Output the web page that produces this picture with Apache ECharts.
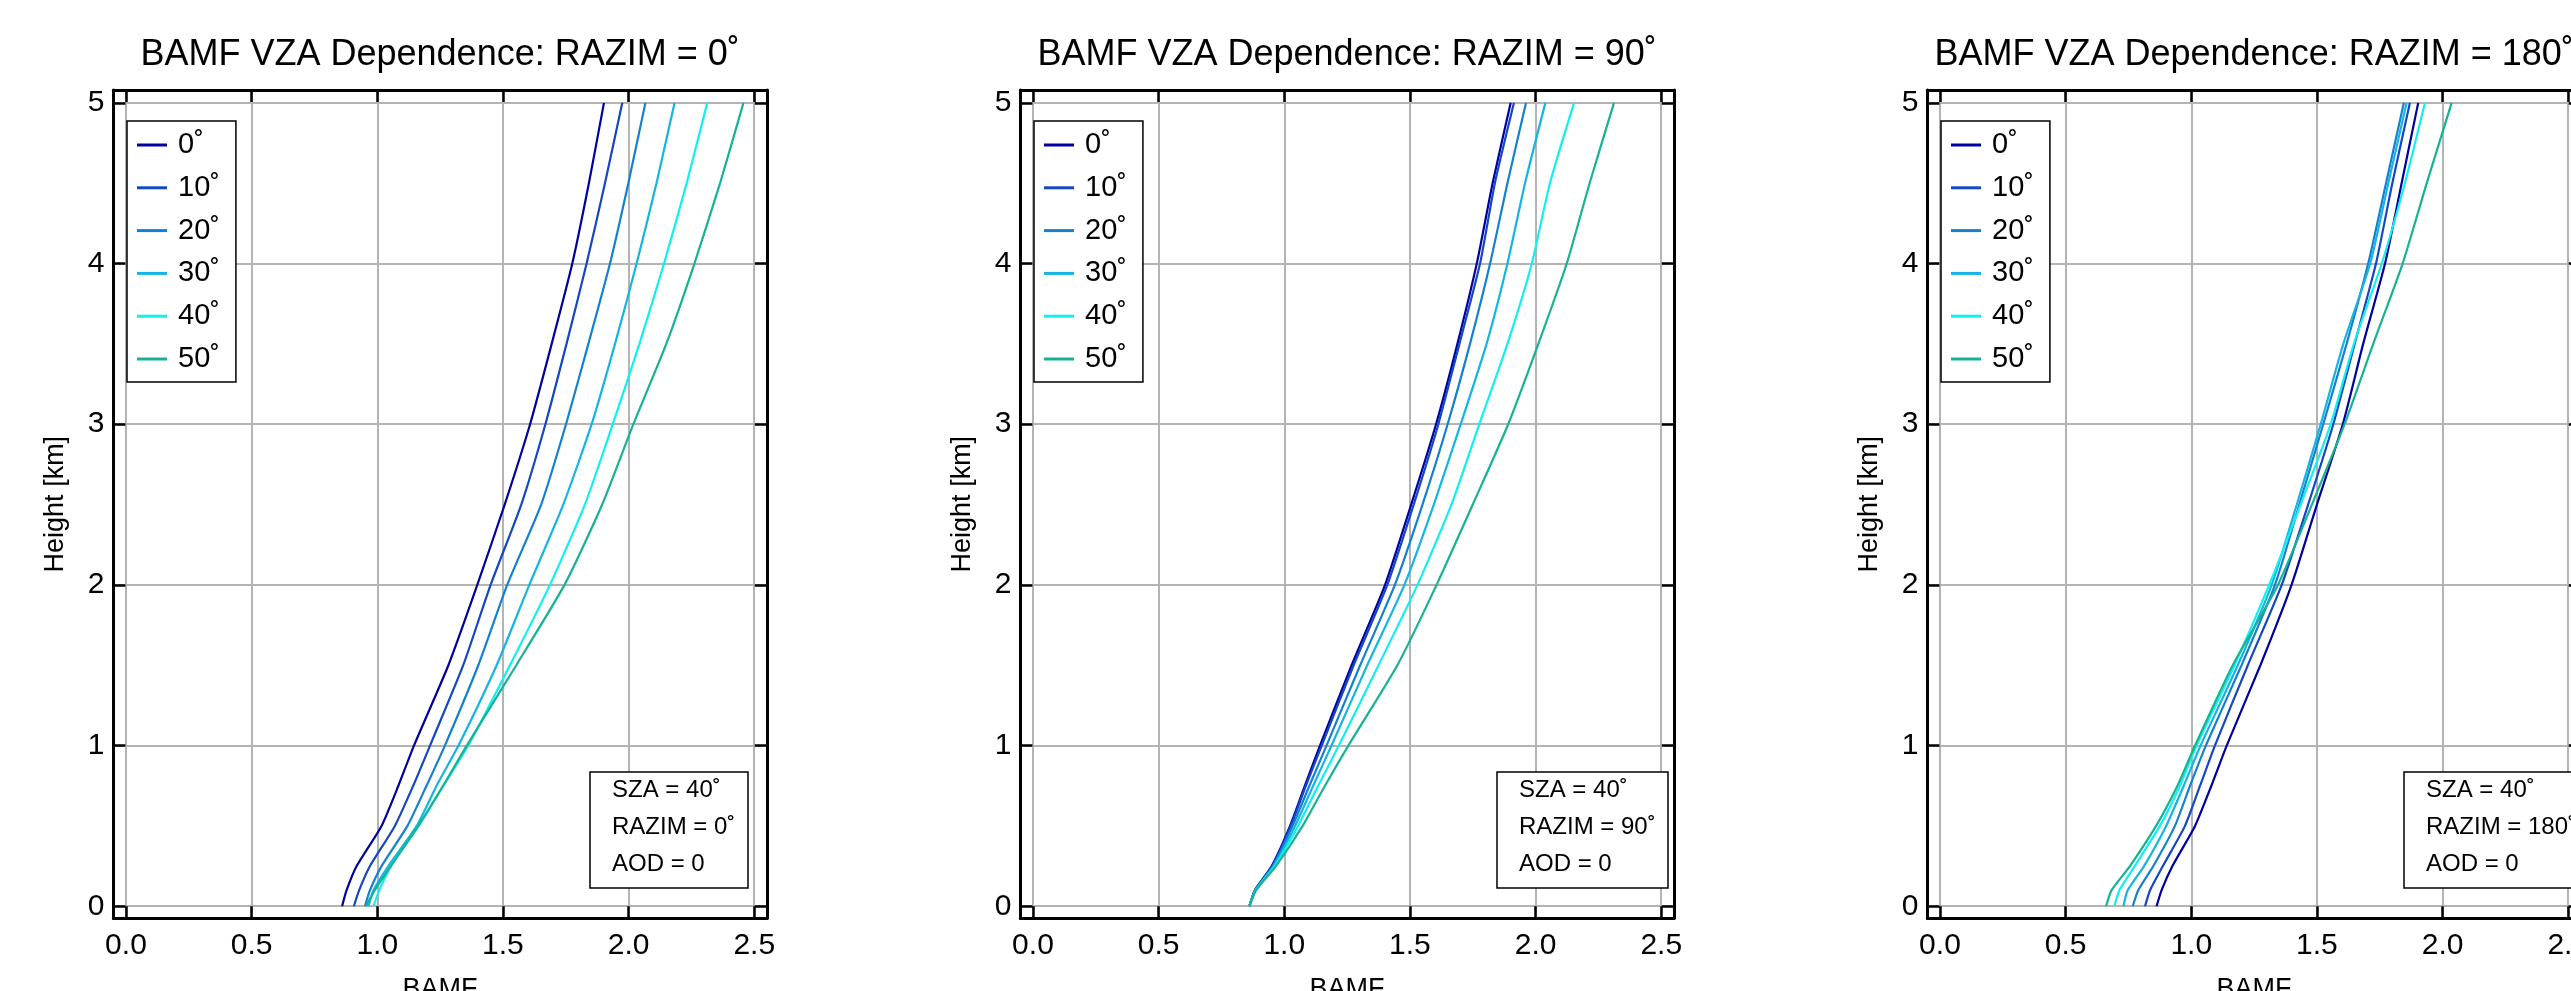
<!DOCTYPE html>
<html>
<head>
<meta charset="utf-8">
<title>BAMF VZA Dependence</title>
<script src="https://cdn.jsdelivr.net/npm/echarts@6/dist/echarts.min.js"></script>
<style>
html, body { margin: 0; padding: 0; background: #fff; }
#main { width: 2571px; height: 991px; }
</style>
</head>
<body>
<div id="main"></div>
<script>
// heights of the profile levels [km]
var heights = [0, 0.1, 0.25, 0.5, 0.75, 1, 1.5, 2, 2.5, 3, 3.5, 4, 4.5, 5];

var vzaNames = ['0˚', '10˚', '20˚', '30˚', '40˚', '50˚'];
var vzaColors = ['#0000a0', '#1446c6', '#1480d2', '#14b4e4', '#10f0f0', '#16b294'];

var razimValues = ['0', '90', '180'];

// BAMF per VZA, RAZIM = 0
var bamfRazim0 = [
  [0.860, 0.878, 0.918, 1.017, 1.084, 1.146, 1.283, 1.398, 1.507, 1.608, 1.694, 1.776, 1.842, 1.902],
  [0.907, 0.928, 0.971, 1.070, 1.143, 1.210, 1.342, 1.451, 1.573, 1.669, 1.753, 1.833, 1.906, 1.975],
  [0.951, 0.971, 1.017, 1.120, 1.196, 1.269, 1.402, 1.517, 1.652, 1.751, 1.840, 1.926, 1.999, 2.067],
  [0.965, 0.985, 1.044, 1.157, 1.236, 1.323, 1.475, 1.605, 1.740, 1.853, 1.946, 2.032, 2.111, 2.183],
  [0.985, 1.008, 1.055, 1.165, 1.263, 1.362, 1.528, 1.687, 1.826, 1.937, 2.043, 2.141, 2.231, 2.313],
  [0.955, 0.990, 1.054, 1.163, 1.262, 1.356, 1.553, 1.745, 1.895, 2.019, 2.150, 2.262, 2.364, 2.457]
];

// BAMF per VZA, RAZIM = 90
var bamfRazim90 = [
  [0.861, 0.883, 0.950, 1.023, 1.082, 1.142, 1.268, 1.401, 1.505, 1.604, 1.689, 1.766, 1.829, 1.901],
  [0.861, 0.884, 0.952, 1.026, 1.086, 1.149, 1.276, 1.410, 1.515, 1.613, 1.697, 1.779, 1.838, 1.914],
  [0.861, 0.885, 0.955, 1.033, 1.100, 1.168, 1.302, 1.440, 1.550, 1.650, 1.739, 1.819, 1.888, 1.962],
  [0.861, 0.886, 0.958, 1.043, 1.115, 1.188, 1.330, 1.478, 1.595, 1.702, 1.805, 1.888, 1.958, 2.039],
  [0.861, 0.887, 0.962, 1.055, 1.135, 1.217, 1.375, 1.530, 1.665, 1.776, 1.888, 1.985, 2.057, 2.153],
  [0.861, 0.888, 0.967, 1.073, 1.162, 1.255, 1.450, 1.606, 1.750, 1.891, 2.011, 2.124, 2.215, 2.312]
];

// BAMF per VZA, RAZIM = 180
var bamfRazim180 = [
  [0.862, 0.882, 0.925, 1.015, 1.080, 1.141, 1.275, 1.399, 1.500, 1.603, 1.684, 1.771, 1.837, 1.903],
  [0.816, 0.836, 0.887, 0.975, 1.035, 1.094, 1.225, 1.360, 1.465, 1.565, 1.650, 1.735, 1.800, 1.870],
  [0.767, 0.789, 0.849, 0.935, 0.995, 1.058, 1.200, 1.333, 1.430, 1.525, 1.618, 1.704, 1.775, 1.846],
  [0.730, 0.747, 0.812, 0.900, 0.970, 1.037, 1.185, 1.320, 1.420, 1.515, 1.605, 1.712, 1.784, 1.857],
  [0.694, 0.714, 0.775, 0.875, 0.955, 1.021, 1.172, 1.310, 1.435, 1.555, 1.647, 1.758, 1.850, 1.930],
  [0.661, 0.683, 0.756, 0.860, 0.945, 1.015, 1.165, 1.345, 1.480, 1.610, 1.724, 1.841, 1.937, 2.036]
];

var panels = [bamfRazim0, bamfRazim90, bamfRazim180];

var dom = document.getElementById('main');
var myChart = echarts.init(dom);

var FONT = 'Liberation Sans, Arial, Helvetica, sans-serif';
var panelLeft = [113.4, 1020.4, 1927.4];
var plotTop = 90, plotW = 653.4, plotH = 828.3;

var grids = [], xAxes = [], yAxes = [], series = [], legends = [], titles = [];

function tickStyle() {
  return { show: true, inside: true, length: 12, lineStyle: { color: '#000', width: 2.5 } };
}
function lineStyleBlack() {
  return { show: true, onZero: false, lineStyle: { color: '#000', width: 3 } };
}

for (var p = 0; p < 3; p++) {
  grids.push({
    left: panelLeft[p], top: plotTop, width: plotW, height: plotH,
    containLabel: false, outerBoundsMode: 'none'
  });

  // bottom + top x axes
  xAxes.push({
    gridIndex: p, type: 'value', position: 'bottom', min: -0.05, max: 2.55, splitNumber: 5,
    name: 'BAMF', nameLocation: 'middle', nameGap: 58,
    nameTextStyle: { fontSize: 27, color: '#000', fontFamily: FONT },
    axisLine: lineStyleBlack(),
    axisTick: tickStyle(),
    axisLabel: {
      fontSize: 30, color: '#000', margin: 12, fontFamily: FONT,
      showMinLabel: false, showMaxLabel: false,
      formatter: function (v) { return v.toFixed(1); }
    },
    splitLine: { show: true, showMinLine: false, showMaxLine: false, lineStyle: { color: '#b4b4b4', width: 2 } }
  });
  xAxes.push({
    gridIndex: p, type: 'value', position: 'top', min: -0.05, max: 2.55, splitNumber: 5,
    axisLine: lineStyleBlack(), axisTick: tickStyle(),
    axisLabel: { show: false }, splitLine: { show: false }
  });

  // left + right y axes
  yAxes.push({
    gridIndex: p, type: 'value', position: 'left', min: -0.075, max: 5.08, splitNumber: 5,
    name: 'Height [km]', nameLocation: 'middle', nameGap: 44,
    nameTextStyle: { fontSize: 27, color: '#000', fontFamily: FONT },
    axisLine: lineStyleBlack(),
    axisTick: tickStyle(),
    axisLabel: { fontSize: 30, color: '#000', margin: 9, fontFamily: FONT, showMinLabel: false, showMaxLabel: false },
    splitLine: { show: true, showMinLine: false, showMaxLine: false, lineStyle: { color: '#b4b4b4', width: 2 } }
  });
  yAxes.push({
    gridIndex: p, type: 'value', position: 'right', min: -0.075, max: 5.08, splitNumber: 5,
    axisLine: lineStyleBlack(), axisTick: tickStyle(),
    axisLabel: { show: false }, splitLine: { show: false }
  });

  for (var k = 0; k < vzaNames.length; k++) {
    var vals = panels[p][k];
    series.push({
      type: 'line',
      name: vzaNames[k],
      xAxisIndex: 2 * p,
      yAxisIndex: 2 * p,
      symbol: 'none',
      smooth: 0.2,
      animation: false,
      data: heights.map(function (h, i) { return [vals[i], h]; }),
      lineStyle: { color: vzaColors[k], width: 2.2 },
      itemStyle: { color: vzaColors[k] },
      z: 3
    });
  }

  legends.push({
    orient: 'vertical',
    left: panelLeft[p] + 13.6,
    top: 121,
    data: vzaNames,
    icon: 'rect',
    itemWidth: 30,
    itemHeight: 3,
    itemGap: 12.8,
    padding: [9, 16, 8, 10],
    borderColor: '#000',
    borderWidth: 1.5,
    borderRadius: 0,
    backgroundColor: '#fff',
    selectedMode: false,
    textStyle: { fontSize: 29, lineHeight: 30, color: '#000', fontFamily: FONT, padding: [0, 0, 0, 6] }
  });

  titles.push({
    text: 'BAMF VZA Dependence: RAZIM = ' + razimValues[p] + '˚',
    left: panelLeft[p] + plotW / 2,
    textAlign: 'center',
    top: 37,
    padding: 0,
    textStyle: { fontSize: 36, fontWeight: 'normal', color: '#000', fontFamily: FONT }
  });
  titles.push({
    text: 'SZA = 40˚\nRAZIM = ' + razimValues[p] + '˚\nAOD = 0',
    left: panelLeft[p] + 476.6,
    top: 772,
    padding: [0, 13, 5, 22],
    borderColor: '#000',
    borderWidth: 1.5,
    backgroundColor: '#fff',
    textStyle: { fontSize: 24, lineHeight: 37, fontWeight: 'normal', color: '#000', fontFamily: FONT }
  });
}

var option = {
  backgroundColor: '#fff',
  animation: false,
  textStyle: { fontFamily: FONT },
  title: titles,
  legend: legends,
  grid: grids,
  xAxis: xAxes,
  yAxis: yAxes,
  series: series
};

myChart.setOption(option);
window.onresize = function () {
  myChart.resize();
};
</script>
</body>
</html>
